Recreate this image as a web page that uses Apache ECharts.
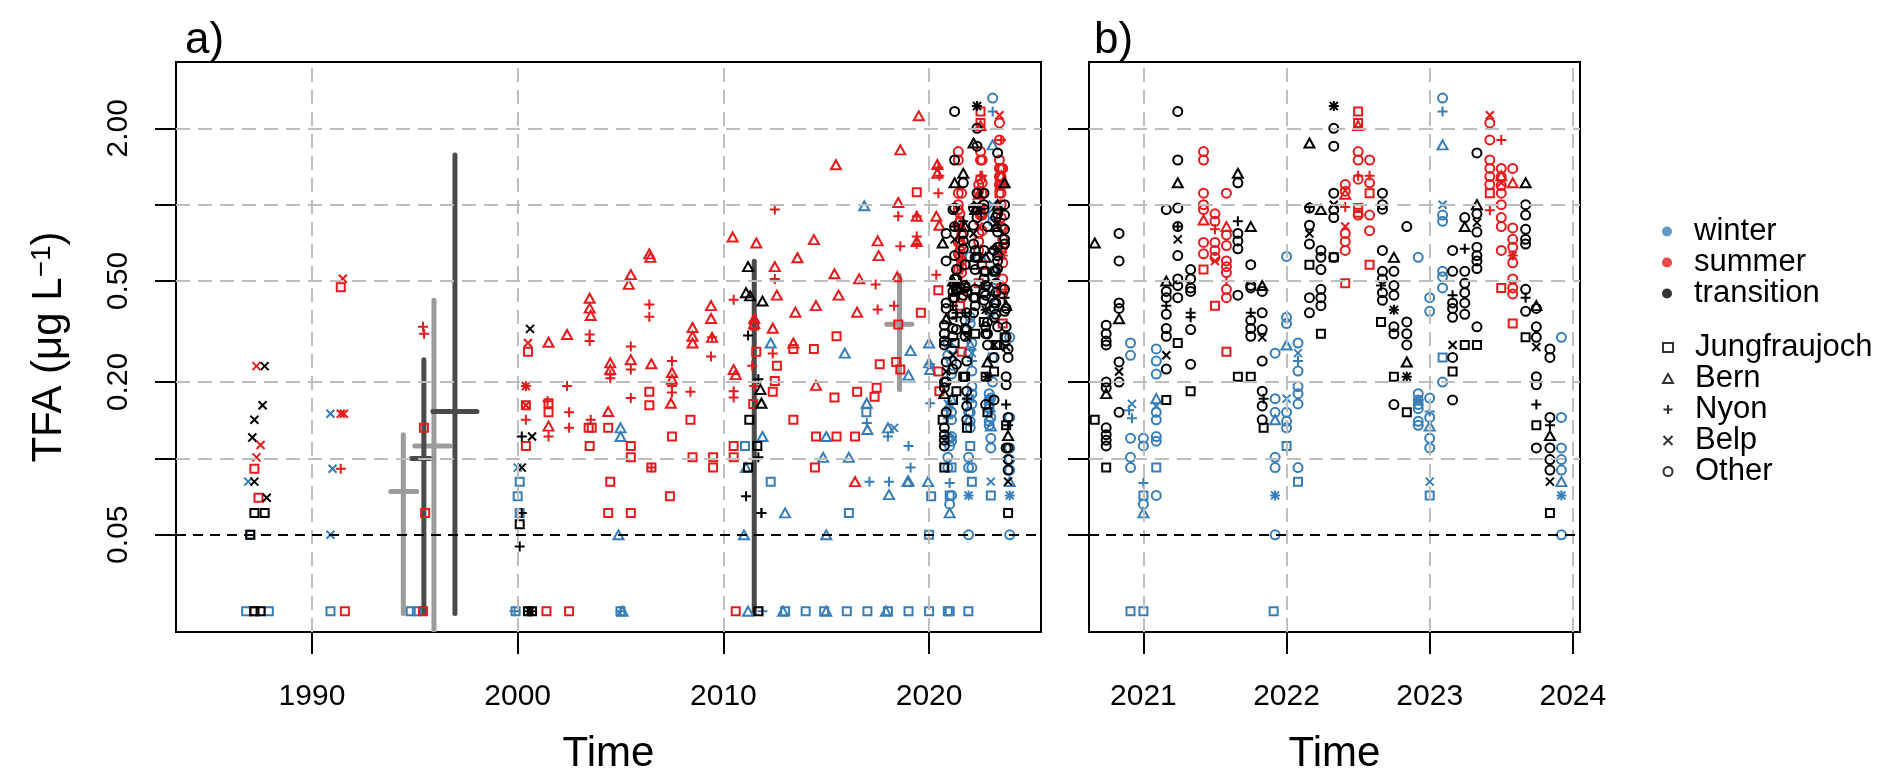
<!DOCTYPE html>
<html>
<head>
<meta charset="utf-8">
<script src="https://cdn.jsdelivr.net/npm/echarts@6/dist/echarts.min.js"></script>
<style>html,body{margin:0;padding:0;background:#fff}#chart{width:1892px;height:782px}</style>
</head>
<body>
<div id="chart"></div>
<script>
// ---------- tick labels ----------
const yTickValues = [0.05, 0.1, 0.2, 0.5, 1, 2];
const yLabelValues = [0.05, 0.2, 0.5, 2];
const xTicksA = [1990, 2000, 2010, 2020];
const xTicksB = [2021, 2022, 2023, 2024];
const seasons = ['winter', 'summer', 'transition'];
const sites = ['Jungfraujoch', 'Bern', 'Nyon', 'Belp', 'Other'];
const detectionLimit = 0.05;

// ---------- winter ----------
const winterJungfraujoch = [[1986.8,0.025],[1987.9,0.025],[1987.0,0.05],[1990.9,0.025],[1994.8,0.025],[1995.1,0.025],
[1999.9,0.025],[2000.1,0.081],[2000.0,0.071],[2000.1,0.061],[2005.0,0.025],
[2011.05,0.112],[2012.3,0.081],[2013.0,0.025],[2014.0,0.025],[2014.9,0.025],[2016.0,0.025],[2016.1,0.061],[2016.95,0.152],[2017.0,0.025],[2018.0,0.025],[2019.0,0.025],[2020.0,0.025],[2020.0,0.05],[2020.1,0.071],
[2020.91,0.025],[2021.0,0.025],[2021.0,0.0715],[2021.09,0.092],[2021.91,0.025],[2022.0,0.112],[2022.08,0.081],[2023.0,0.0715],[2023.09,0.25]];
const winterBern = [[2004.9,0.05],[2005.0,0.132],[2005.0,0.122],[2005.1,0.025],
[2011.0,0.05],[2011.1,0.092],[2011.2,0.025],[2011.9,0.122],[2012.3,0.285],[2013.0,0.061],[2014.85,0.101],[2015.0,0.122],[2015.0,0.05],[2015.9,0.26],[2016.1,0.101],[2016.85,0.99],[2016.97,0.165],[2017.0,0.13],[2018.0,0.132],[2018.05,0.072],[2018.95,0.081],[2019.0,0.213],[2019.1,0.266],[2019.0,0.0814],[2020.0,0.285],[2020.0,0.238],[2020.05,0.224],[2019.95,0.081],[2012.9,0.025],[2015.0,0.025],[2017.9,0.025],
[2021.0,0.061],[2021.09,0.172],[2021.92,0.142],[2022.0,0.28],[2023.0,0.134],[2023.09,1.72],[2023.92,0.081]];
const winterNyon = [[1999.85,0.025],[2011.9,0.025],[2011.85,0.061],[2016.97,0.138],[2017.1,0.081],[2018.0,0.122],[2018.05,0.081],[2019.0,0.112],[2019.1,0.092],[2020.05,0.165],[2020.05,0.235],[2005.0,0.025],
[2020.92,0.144],[2020.9,0.155],[2021.0,0.08],[2021.92,0.0715],[2022.08,0.242],[2022.92,0.17],[2023.0,0.153],[2023.09,2.33],[2023.92,0.0715]];
const winterBelp = [[1986.9,0.081],[1990.9,0.15],[1991.0,0.091],[1990.9,0.05],[2000.0,0.092],[2018.3,0.132],
[2020.92,0.164],[2021.09,0.161],[2021.92,0.0715],[2022.0,0.172],[2022.08,0.26],[2022.92,0.17],[2023.0,0.081],[2023.09,1.0],[2023.92,0.0715]];
const winterOther = [[2020.91,0.285],[2020.91,0.255],[2020.91,0.12],[2020.91,0.101],[2020.91,0.092],
[2021.0,0.12],[2021.0,0.112],[2021.0,0.066],
[2021.09,0.27],[2021.09,0.242],[2021.09,0.215],[2021.09,0.152],[2021.09,0.142],[2021.09,0.122],[2021.09,0.117],[2021.09,0.0715],
[2021.92,0.26],[2021.92,0.172],[2021.92,0.152],[2021.92,0.101],[2021.92,0.092],[2021.92,0.05],
[2022.0,0.625],[2022.0,0.36],[2022.0,0.34],[2022.0,0.152],[2022.0,0.14],[2022.0,0.132],
[2022.08,0.285],[2022.08,0.221],[2022.08,0.192],[2022.08,0.18],[2022.08,0.164],[2022.08,0.092],
[2022.92,0.62],[2022.92,0.18],[2022.92,0.17],[2022.92,0.163],[2022.92,0.157],[2022.92,0.14],[2022.92,0.135],
[2023.0,0.43],[2023.0,0.38],[2023.0,0.173],[2023.0,0.145],[2023.0,0.12],[2023.0,0.11],
[2023.09,2.63],[2023.09,0.91],[2023.09,0.86],[2023.09,0.546],[2023.09,0.52],[2023.09,0.47],[2023.09,0.2],
[2023.92,0.30],[2023.92,0.145],[2023.92,0.11],[2023.92,0.099],[2023.92,0.09],[2023.92,0.05]];

// ---------- summer ----------
const summerJungfraujoch = [[1987.2,0.091],[1987.4,0.070],[1987.2,0.025],[1991.4,0.473],[1991.6,0.025],[1995.44,0.132],[1995.5,0.061],[1995.4,0.025],
[2000.5,0.263],[2000.4,0.162],[2000.4,0.112],[2001.5,0.165],[2001.5,0.152],[2001.4,0.025],[2002.5,0.025],[2003.45,0.132],[2003.6,0.132],[2003.5,0.112],[2004.4,0.132],[2004.5,0.081],[2004.4,0.061],[2005.5,0.112],[2005.5,0.101],[2005.5,0.061],[2006.4,0.183],[2006.4,0.162],[2006.5,0.092],[2007.4,0.071],[2007.5,0.122],[2008.4,0.142],[2008.5,0.101],[2009.5,0.101],[2009.5,0.092],
[2010.6,0.025],[2010.5,0.112],[2010.5,0.101],[2011.5,0.334],[2011.6,0.263],[2011.45,0.164],[2012.6,0.232],[2012.5,0.202],[2012.4,0.183],[2013.4,0.142],[2013.4,0.27],[2014.4,0.27],[2014.45,0.092],[2014.5,0.122],[2015.5,0.303],[2015.4,0.174],[2015.5,0.122],[2016.5,0.183],[2016.4,0.122],[2017.6,0.235],[2017.45,0.19],[2017.35,0.175],[2018.4,0.24],[2018.6,0.224],[2018.5,0.337],[2019.4,1.12],[2019.6,0.375],[2020.45,0.46],[2020.45,0.22],[2020.5,0.184],
[2021.42,0.555],[2021.5,0.40],[2021.58,0.263],[2022.41,0.49],[2022.5,2.33],[2022.5,0.93],[2022.58,0.58],[2022.5,2.1],[2022.58,1.11],[2022.5,0.97],[2023.42,1.11],[2023.5,0.47],[2023.58,0.34]];
const summerBern = [[2001.5,0.287],[2001.5,0.134],[2002.4,0.308],[2003.5,0.428],[2003.5,0.391],[2003.55,0.366],[2004.5,0.238],[2004.5,0.224],[2004.4,0.153],[2005.5,0.53],[2005.4,0.485],[2005.5,0.245],[2006.4,0.64],[2006.45,0.62],[2006.5,0.236],[2007.5,0.218],[2007.5,0.205],[2007.45,0.165],[2008.5,0.328],[2008.5,0.303],[2008.5,0.285],[2009.4,0.40],[2009.4,0.356],[2009.45,0.30],
[2010.45,0.746],[2011.6,0.706],[2014.4,0.728],[2013.6,0.618],[2012.5,0.57],[2015.4,0.534],[2016.6,0.51],[2012.6,0.44],[2013.5,0.377],[2014.5,0.40],[2015.6,0.44],[2016.5,0.377],[2011.5,0.356],[2011.5,0.34],[2012.4,0.326],[2013.4,0.285],[2010.5,0.224],[2010.6,0.214],[2014.5,0.194],[2015.47,1.437],[2016.4,0.081],[2017.5,0.72],[2017.55,0.63],[2018.45,0.52],[2018.5,1.02],[2019.4,0.90],[2020.35,0.90],[2020.5,0.83],[2019.5,2.24],[2018.6,1.645],[2020.4,1.44],[2020.4,1.33],[2019.4,0.716],
[2021.42,0.87],[2021.58,0.82],[2022.41,1.1],[2022.5,2.05],[2023.5,1.3],[2023.58,1.22]];
const summerNyon = [[1991.4,0.091],[1995.4,0.33],[1995.45,0.31],[2000.4,0.142],[2000.4,0.193],[2001.45,0.168],[2001.5,0.122],[2002.4,0.193],[2002.5,0.152],[2002.5,0.132],[2003.5,0.308],[2003.5,0.290],[2003.55,0.142],[2004.5,0.214],[2004.5,0.207],[2005.5,0.276],[2005.5,0.224],[2005.5,0.173],[2006.4,0.404],[2006.4,0.362],[2006.5,0.092],[2007.5,0.242],[2007.5,0.193],[2007.5,0.182],[2008.4,0.183],[2009.4,0.252],[2009.45,0.30],
[2012.5,0.957],[2012.5,0.51],[2010.5,0.422],[2012.4,0.259],[2011.4,0.232],[2010.5,0.184],[2010.5,0.174],[2011.5,0.193],
[2017.4,0.485],[2017.5,0.386],[2018.3,0.40],[2018.5,0.90],[2018.6,0.685],[2019.4,0.90],[2019.4,0.75],[2019.4,0.70],[2020.35,0.53],[2020.45,1.11],[2020.45,1.4],[2020.5,1.3],
[2021.5,0.80],[2021.58,0.5],[2022.41,0.98],[2022.5,1.3],[2022.58,1.3],[2023.42,0.95],[2023.5,1.80],[2023.58,0.63]];
const summerBelp = [[1987.3,0.231],[1987.5,0.113],[1987.3,0.101],[1991.5,0.511],[1991.4,0.150],[1991.55,0.150],[2000.5,0.285],[2000.4,0.193],[2000.4,0.162],
[2021.5,0.60],[2022.41,0.82],[2023.42,2.25],[2023.5,1.22],[2023.58,0.63]];
const summerOther = [[2021.42,1.62],[2021.42,1.50],[2021.42,1.11],[2021.42,1.0],[2021.42,0.957],[2021.42,0.71],[2021.42,0.64],
[2021.5,0.92],[2021.5,0.86],[2021.5,0.71],[2021.5,0.66],[2021.5,0.62],
[2021.58,1.11],[2021.58,0.76],[2021.58,0.69],[2021.58,0.60],[2021.58,0.57],[2021.58,0.54],[2021.58,0.464],[2021.58,0.43],
[2022.41,1.2],[2022.41,1.13],[2022.41,0.77],[2022.41,0.716],[2022.41,0.66],
[2022.5,1.62],[2022.5,1.5],[2022.5,1.26],[2022.5,0.91],[2022.58,1.5],[2022.58,1.22],[2022.58,0.91],[2022.58,0.79],
[2023.42,2.1],[2023.42,1.80],[2023.42,1.5],[2023.42,1.39],[2023.42,1.29],[2023.42,1.2],
[2023.5,1.39],[2023.5,1.29],[2023.5,1.19],[2023.5,1.11],[2023.5,1.0],[2023.5,0.89],[2023.5,0.82],[2023.5,0.66],
[2023.58,1.39],[2023.58,0.81],[2023.58,0.73],[2023.58,0.68],[2023.58,0.59],[2023.58,0.51],[2023.58,0.47],[2023.58,0.445]];

// ---------- transition ----------
const transitionJungfraujoch = [[1987.2,0.061],[1987.7,0.061],[1987.0,0.05],[1987.2,0.025],[1987.5,0.025],
[2000.1,0.055],[2000.5,0.025],[2000.7,0.025],
[2011.26,0.142],[2011.65,0.112],[2011.2,0.092],[2011.7,0.025],
[2020.66,0.142],[2020.74,0.092],[2021.16,0.17],[2021.24,0.285],[2021.33,0.184],[2021.66,0.21],[2021.75,0.21],[2021.84,0.132],[2022.16,0.58],[2022.24,0.31],[2022.33,0.62],[2022.66,0.345],[2022.75,0.21],[2022.84,0.152],[2023.16,0.22],[2023.245,0.28],[2023.33,0.28],[2023.67,0.30],[2023.745,0.135],[2023.84,0.061]];
const transitionBern = [[2011.2,0.57],[2011.1,0.45],[2011.3,0.437],[2011.9,0.417],[2011.8,0.187],[2011.85,0.165],
[2020.66,0.706],[2020.83,0.355],[2020.74,0.18],[2021.16,0.5],[2021.24,1.22],[2021.66,1.33],[2021.75,0.82],[2021.83,0.48],[2022.16,1.75],[2022.24,0.957],[2022.75,0.62],[2022.84,0.24],[2023.245,0.82],[2023.33,1.0],[2023.67,1.22],[2023.745,0.40],[2023.84,0.123]];
const transitionNyon = [[2000.2,0.122],[2000.2,0.061],[2000.1,0.045],[2000.6,0.025],[2011.2,0.305],[2011.7,0.205],[2011.7,0.101],[2011.1,0.071],[2011.85,0.061],
[2021.16,0.40],[2021.24,0.82],[2021.33,0.375],[2021.33,0.36],[2021.66,0.86],[2021.75,0.375],[2021.84,0.172],[2022.16,0.98],[2022.33,2.45],[2022.66,0.48],[2022.75,0.385],[2022.84,0.21],[2023.16,0.44],[2023.245,0.67],[2023.67,0.43],[2023.745,0.163],[2023.84,0.135]];
const transitionBelp = [[1987.2,0.081],[1987.7,0.231],[1987.6,0.162],[1987.2,0.142],[1987.1,0.121],[1987.8,0.070],
[2000.6,0.324],[2000.7,0.122],[2000.2,0.092],[2000.6,0.025],
[2020.83,0.22],[2021.16,0.255],[2021.24,0.73],[2021.83,0.30],[2022.16,0.77],[2022.33,1.0],[2022.33,2.45],[2022.75,0.385],[2022.84,0.21],[2023.16,0.28],[2023.33,0.85],[2023.745,0.275],[2023.84,0.081]];
const transitionOther = [[2020.74,0.335],[2020.74,0.31],[2020.74,0.29],[2020.74,0.28],[2020.74,0.2],[2020.74,0.19],[2020.74,0.132],[2020.74,0.124],[2020.74,0.118],[2020.74,0.112],
[2020.83,0.77],[2020.83,0.60],[2020.83,0.41],[2020.83,0.39],[2020.83,0.24],[2020.83,0.20],[2020.83,0.152],
[2021.16,0.957],[2021.16,0.455],[2021.16,0.43],[2021.16,0.37],[2021.16,0.325],[2021.16,0.303],[2021.16,0.225],
[2021.24,2.33],[2021.24,1.50],[2021.24,0.97],[2021.24,0.82],[2021.24,0.63],[2021.24,0.51],[2021.24,0.48],[2021.24,0.43],
[2021.33,0.555],[2021.33,0.51],[2021.33,0.47],[2021.33,0.455],[2021.33,0.322],[2021.33,0.235],
[2021.66,1.22],[2021.66,0.77],[2021.66,0.72],[2021.66,0.67],[2021.66,0.44],
[2021.75,0.58],[2021.75,0.48],[2021.75,0.47],[2021.75,0.35],[2021.75,0.325],[2021.75,0.303],
[2021.83,0.455],[2021.83,0.375],[2021.83,0.322],[2021.83,0.242],[2021.83,0.184],[2021.83,0.161],[2021.83,0.142],
[2022.16,0.97],[2022.16,0.83],[2022.16,0.70],[2022.16,0.43],[2022.16,0.375],
[2022.24,0.66],[2022.24,0.62],[2022.24,0.555],[2022.24,0.464],[2022.24,0.43],[2022.24,0.40],
[2022.33,2.0],[2022.33,1.70],[2022.33,1.11],[2022.33,0.957],[2022.33,0.89],[2022.33,0.62],
[2022.67,1.11],[2022.67,1.0],[2022.67,0.96],[2022.67,0.66],[2022.67,0.546],[2022.67,0.51],[2022.67,0.45],[2022.67,0.42],
[2022.75,0.546],[2022.75,0.48],[2022.75,0.44],[2022.75,0.33],[2022.75,0.31],[2022.75,0.163],
[2022.84,0.82],[2022.84,0.345],[2022.84,0.31],[2022.84,0.28],
[2023.16,0.66],[2023.16,0.546],[2023.16,0.41],[2023.16,0.39],[2023.16,0.36],[2023.16,0.25],[2023.16,0.17],
[2023.245,0.89],[2023.245,0.546],[2023.245,0.49],[2023.245,0.45],[2023.245,0.41],[2023.245,0.37],
[2023.33,1.6],[2023.33,0.92],[2023.33,0.78],[2023.33,0.68],[2023.33,0.63],[2023.33,0.60],[2023.33,0.56],[2023.33,0.33],
[2023.67,1.0],[2023.67,0.91],[2023.67,0.80],[2023.67,0.73],[2023.67,0.70],[2023.67,0.464],[2023.67,0.38],
[2023.745,0.39],[2023.745,0.33],[2023.745,0.30],[2023.745,0.21],[2023.745,0.195],[2023.745,0.11],
[2023.84,0.27],[2023.84,0.25],[2023.84,0.145],[2023.84,0.11],[2023.84,0.099],[2023.84,0.09]];

// ---------- range bars: [year, low, high, median, tickStart, tickEnd] ----------
const lightRanges = [[1994.44,0.0245,0.124,0.074,1993.83,1995.09],[1995.93,0.0207,0.42,0.112,1995.0,1996.7],[2018.56,0.187,0.526,0.338,2017.94,2019.16]];
const darkRanges = [[1995.44,0.0245,0.245,0.10,1994.84,1995.73],[1996.95,0.0245,1.57,0.153,1995.88,1998.02],[2011.5,0.0245,0.598,'-','-','-']];

// ---------- build ----------
const table = {
  winter: {Jungfraujoch: winterJungfraujoch, Bern: winterBern, Nyon: winterNyon, Belp: winterBelp, Other: winterOther},
  summer: {Jungfraujoch: summerJungfraujoch, Bern: summerBern, Nyon: summerNyon, Belp: summerBelp, Other: summerOther},
  transition: {Jungfraujoch: transitionJungfraujoch, Bern: transitionBern, Nyon: transitionNyon, Belp: transitionBelp, Other: transitionOther}
};
const FONT = '"Liberation Sans", Arial, Helvetica, sans-serif';
const seasonColor = {winter: '#377EB8', summer: '#E41A1C', transition: '#000000'};
const PLUS = 'path://M0,5L10,5M5,0L5,10';
const CROSS = 'path://M0,0L10,10M10,0L0,10';
const siteSymbol = {
  Jungfraujoch: {symbol: 'rect', size: 8},
  Bern: {symbol: 'triangle', size: [10, 9]},
  Nyon: {symbol: PLUS, size: 10},
  Belp: {symbol: CROSS, size: 8},
  Other: {symbol: 'circle', size: 9}
};
const GRID_GRAY = '#bebebe';

const series = [];
[0, 1].forEach(function (p) {
  const gl = [];
  (p === 0 ? xTicksA : xTicksB).forEach(function (v) {
    gl.push({xAxis: v, lineStyle: {color: GRID_GRAY, type: [14, 8], width: 2}});
  });
  yTickValues.forEach(function (v) {
    if (v === detectionLimit) return;
    gl.push({yAxis: v, lineStyle: {color: GRID_GRAY, type: [14, 8], width: 2}});
  });
  gl.push({yAxis: detectionLimit, lineStyle: {color: '#000', type: [10, 7], width: 2}});
  series.push({
    type: 'scatter', xAxisIndex: p, yAxisIndex: p, data: [], z: 0, silent: true,
    markLine: {silent: true, symbol: ['none', 'none'], label: {show: false}, animation: false, data: gl}
  });
});

function barRenderer(color) {
  return function (params, api) {
    const x = api.value(0), lo = api.value(1), hi = api.value(2), med = api.value(3), s0 = api.value(4), s1 = api.value(5);
    const a = api.coord([x, lo]), b = api.coord([x, hi]);
    const children = [{type: 'line', shape: {x1: a[0], y1: a[1], x2: b[0], y2: b[1]}, style: {stroke: color, lineWidth: 5, lineCap: 'round'}}];
    if (!isNaN(med) && !isNaN(s0)) {
      const c = api.coord([s0, med]), d = api.coord([s1, med]);
      children.push({type: 'line', shape: {x1: c[0], y1: c[1], x2: d[0], y2: d[1]}, style: {stroke: color, lineWidth: 5, lineCap: 'round'}});
    }
    return {type: 'group', children: children};
  };
}
series.push({type: 'custom', xAxisIndex: 0, yAxisIndex: 0, data: lightRanges, renderItem: barRenderer('#9b9b9b'), z: 1, silent: true, clip: true,
  encode: {x: 0, y: [1, 2]}});
series.push({type: 'custom', xAxisIndex: 0, yAxisIndex: 0, data: darkRanges, renderItem: barRenderer('#4a4a4a'), z: 1, silent: true, clip: true,
  encode: {x: 0, y: [1, 2]}});

[0, 1].forEach(function (p) {
  seasons.forEach(function (s) {
    sites.forEach(function (site) {
      series.push({
        type: 'scatter', xAxisIndex: p, yAxisIndex: p, data: table[s][site],
        symbol: siteSymbol[site].symbol, symbolSize: siteSymbol[site].size,
        itemStyle: {color: 'transparent', borderColor: seasonColor[s], borderWidth: 2, opacity: 1},
        z: 3, silent: true, clip: true, animation: false
      });
    });
  });
});

// legend carriers
seasons.forEach(function (s) {
  series.push({type: 'scatter', name: s, data: [], symbol: 'circle', itemStyle: {color: seasonColor[s]}});
});
sites.forEach(function (site) {
  series.push({type: 'scatter', name: site, data: [], symbol: siteSymbol[site].symbol,
    itemStyle: {color: 'transparent', borderColor: '#000', borderWidth: 2}});
});

function xAxisFor(grid, min, max, ticks) {
  return {
    gridIndex: grid, type: 'value', min: min, max: max,
    axisLine: {show: false},
    axisTick: {show: true, customValues: ticks, length: 22, lineStyle: {color: '#000', width: 2}},
    axisLabel: {show: true, customValues: ticks, formatter: function (v) { return String(Math.round(v)); },
      fontSize: 30, color: '#000', fontFamily: FONT, margin: 50},
    splitLine: {show: false},
    name: 'Time', nameLocation: 'middle', nameGap: 101,
    nameTextStyle: {fontSize: 42, color: '#000', fontFamily: FONT}
  };
}
function yAxisFor(grid, withLabels) {
  const ax = {
    gridIndex: grid, type: 'log', logBase: 10, min: 0.0207, max: 3.65,
    axisLine: {show: false},
    axisTick: {show: true, customValues: yTickValues, length: 21, lineStyle: {color: '#000', width: 2}},
    axisLabel: {show: withLabels, customValues: yLabelValues, rotate: 90,
      formatter: function (v) { return Number(v).toFixed(2); },
      fontSize: 30, color: '#000', fontFamily: FONT, margin: 42},
    splitLine: {show: false}, minorTick: {show: false}, minorSplitLine: {show: false}
  };
  if (withLabels) {
    ax.name = '{t|TFA (μg L}{s|−1}{t|)}';
    ax.nameLocation = 'middle';
    ax.nameGap = 106;
    ax.nameTextStyle = {fontSize: 42, color: '#000', fontFamily: FONT,
      rich: {t: {fontSize: 42, fontFamily: FONT, color: '#000'},
             s: {fontSize: 28, fontFamily: FONT, color: '#000', verticalAlign: 'top', padding: [0, 0, 14, 0]}}};
  }
  return ax;
}

const option = {
  animation: false,
  backgroundColor: '#ffffff',
  textStyle: {fontFamily: FONT},
  grid: [
    {left: 176, top: 62, width: 865, height: 570, show: true, borderColor: '#000', borderWidth: 2, backgroundColor: 'transparent', containLabel: false, outerBoundsMode: 'none'},
    {left: 1089, top: 62, width: 491, height: 570, show: true, borderColor: '#000', borderWidth: 2, backgroundColor: 'transparent', containLabel: false, outerBoundsMode: 'none'}
  ],
  xAxis: [xAxisFor(0, 1983.39, 2025.44, xTicksA), xAxisFor(1, 2020.62, 2024.05, xTicksB)],
  yAxis: [yAxisFor(0, true), yAxisFor(1, false)],
  legend: [
    {orient: 'vertical', left: 1662, top: 216, itemWidth: 10, itemHeight: 10, itemGap: 0, selectedMode: false,
      textStyle: {fontSize: 31, color: '#000', fontFamily: FONT, lineHeight: 29, padding: [0, 0, 0, 17]}, padding: 0,
      data: seasons.map(function (s) { return {name: s, icon: 'circle', itemStyle: {color: seasonColor[s], borderWidth: 0}}; })},
    {orient: 'vertical', left: 1662, top: 332, itemWidth: 10, itemHeight: 9, itemGap: 0, selectedMode: false,
      textStyle: {fontSize: 31, color: '#000', fontFamily: FONT, lineHeight: 29, padding: [0, 0, 0, 17]}, padding: 0,
      data: sites.map(function (site) { return {name: site, icon: siteSymbol[site].symbol,
        itemStyle: {color: 'transparent', borderColor: '#000', borderWidth: 2}}; })}
  ],
  graphic: [
    {type: 'text', left: 185, top: 19, silent: true, style: {text: 'a)', font: '44px ' + FONT, fill: '#000'}},
    {type: 'text', left: 1094, top: 19, silent: true, style: {text: 'b)', font: '44px ' + FONT, fill: '#000'}}
  ],
  series: series
};

const chart = echarts.init(document.getElementById('chart'), null, {renderer: 'canvas'});
chart.setOption(option);
</script>
</body>
</html>
